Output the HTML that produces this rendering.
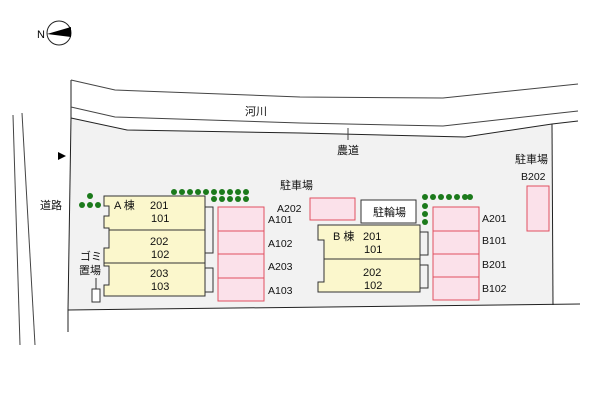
<!DOCTYPE html>
<html><head><meta charset="utf-8"><style>
html,body{margin:0;padding:0;background:#fff;}
svg{display:block;font-family:"Liberation Sans","Noto Sans CJK JP",sans-serif;}
</style></head><body>
<svg width="600" height="400" viewBox="0 0 600 400">
<!-- site -->
<polygon points="71,118 127,130 300,133 465,137 552,124 553,305 68,310" fill="#f2f2f2" stroke="none"/>
<polyline points="71,118 127,130 300,133 465,137 552,124 578,121" fill="none" stroke="#222" stroke-width="1"/>
<polyline points="552,124 553,305" fill="none" stroke="#222"/>
<polyline points="71,80 71,118" stroke="#222" fill="none"/>
<polyline points="71,118 68,310" stroke="#222" fill="none"/>
<polyline points="68,310 68,332" stroke="#222" fill="none"/>
<polyline points="68,310 580,304" stroke="#222" fill="none"/>
<!-- river -->
<polyline points="71,80 115,90 300,97 443,98 578,84" fill="none" stroke="#444"/>
<polyline points="71,107 115,117 300,123 443,126 578,111" fill="none" stroke="#444"/>
<line x1="348" y1="128" x2="348" y2="140" stroke="#444"/>
<!-- road -->
<line x1="13" y1="115" x2="20" y2="345" stroke="#444"/>
<line x1="22" y1="113" x2="35" y2="345" stroke="#444"/>
<polygon points="58,152 66,156 58,160" fill="#000"/>
<!-- compass -->
<circle cx="59" cy="33" r="12" fill="#fff" stroke="#222"/>
<polygon points="47,34 71,27 71,37" fill="#000"/>
<text x="37" y="38" font-size="11" fill="#000">N</text>
<!-- text -->
<g font-size="11" fill="#111">
<text x="245" y="115">河川</text>
<text x="337" y="154">農道</text>
<text x="40" y="209">道路</text>
<text x="280" y="189">駐車場</text>
<text x="515" y="163">駐車場</text>
<text x="521" y="180" font-size="10.5">B202</text>
<text x="80" y="260">ゴミ</text>
<text x="79" y="274">置場</text>
</g>
<!-- dots -->
<g fill="#1b7a1b">
<circle cx="90" cy="196" r="3"/><circle cx="82" cy="205" r="3"/><circle cx="90" cy="205" r="3"/><circle cx="98" cy="205" r="3"/>
<g id="r1"></g>
<circle cx="174" cy="192" r="3"/><circle cx="182" cy="192" r="3"/><circle cx="190" cy="192" r="3"/><circle cx="198" cy="192" r="3"/><circle cx="206" cy="192" r="3"/><circle cx="214" cy="192" r="3"/><circle cx="222" cy="192" r="3"/><circle cx="230" cy="192" r="3"/><circle cx="238" cy="192" r="3"/><circle cx="246" cy="192" r="3"/>
<circle cx="214" cy="199" r="3"/><circle cx="222" cy="199" r="3"/><circle cx="230" cy="199" r="3"/><circle cx="238" cy="199" r="3"/><circle cx="246" cy="199" r="3"/>
<circle cx="425" cy="197" r="3"/><circle cx="433" cy="197" r="3"/><circle cx="441" cy="197" r="3"/><circle cx="449" cy="197" r="3"/><circle cx="457" cy="197" r="3"/><circle cx="465" cy="197" r="3"/><circle cx="470" cy="197" r="3"/>
<circle cx="425" cy="206" r="3"/><circle cx="425" cy="214" r="3"/><circle cx="425" cy="222" r="3"/>
</g>
<!-- A building -->
<g stroke="#333" stroke-width="1" fill="#fbf7cc">
<polygon points="104,196 205,196 205,296 104,296 104,285 109,285 109,266 104,266 104,248 109,248 109,228 104,228 104,216 109,216 109,206 104,206"/>
<line x1="109" y1="230" x2="205" y2="230"/>
<line x1="104" y1="263" x2="205" y2="263"/>
<polyline points="205,207 213,207 213,253 205,253" fill="none"/>
<polyline points="205,268 213,268 213,292 205,292" fill="none"/>
</g>
<rect x="92" y="289" width="8" height="13" fill="#fff" stroke="#333"/>
<line x1="96" y1="278" x2="96" y2="289" stroke="#333"/>
<g font-size="11" fill="#111">
<text x="114" y="209">A 棟</text>
<text x="150" y="209">201</text><text x="151" y="222">101</text>
<text x="150" y="245">202</text><text x="151" y="258">102</text>
<text x="150" y="277">203</text><text x="151" y="290">103</text>
</g>
<!-- A parking -->
<g stroke="#e05060" fill="#fbe1ea" stroke-width="1">
<rect x="218" y="207" width="46" height="94"/>
<line x1="218" y1="231" x2="264" y2="231"/><line x1="218" y1="254" x2="264" y2="254"/><line x1="218" y1="278" x2="264" y2="278"/>
<rect x="310" y="198" width="45" height="22"/>
<rect x="433" y="207" width="46" height="93"/>
<line x1="433" y1="231" x2="479" y2="231"/><line x1="433" y1="254" x2="479" y2="254"/><line x1="433" y1="277" x2="479" y2="277"/>
<rect x="527" y="186" width="22" height="45"/>
</g>
<g font-size="10.5" fill="#111">
<text x="277" y="212">A202</text>
<text x="268" y="223">A101</text>
<text x="268" y="247">A102</text>
<text x="268" y="270">A203</text>
<text x="268" y="294">A103</text>
<text x="482" y="222">A201</text>
<text x="482" y="244">B101</text>
<text x="482" y="268">B201</text>
<text x="482" y="292">B102</text>
</g>
<rect x="361" y="200" width="55" height="23" fill="#fff" stroke="#333"/>
<text x="373" y="216" font-size="11" fill="#111">駐輪場</text>
<!-- B building -->
<g stroke="#333" stroke-width="1" fill="#fbf7cc">
<polygon points="318,225 420,225 420,292 318,292 318,282 324,282 324,240 318,240"/>
<line x1="324" y1="259" x2="420" y2="259"/>
<polyline points="420,232 428,232 428,255 420,255" fill="none"/>
<polyline points="420,265 428,265 428,288 420,288" fill="none"/>
</g>
<g font-size="11" fill="#111">
<text x="333" y="240">B 棟</text>
<text x="363" y="240">201</text><text x="364" y="253">101</text>
<text x="363" y="276">202</text><text x="364" y="289">102</text>
</g>
</svg>
</body></html>
